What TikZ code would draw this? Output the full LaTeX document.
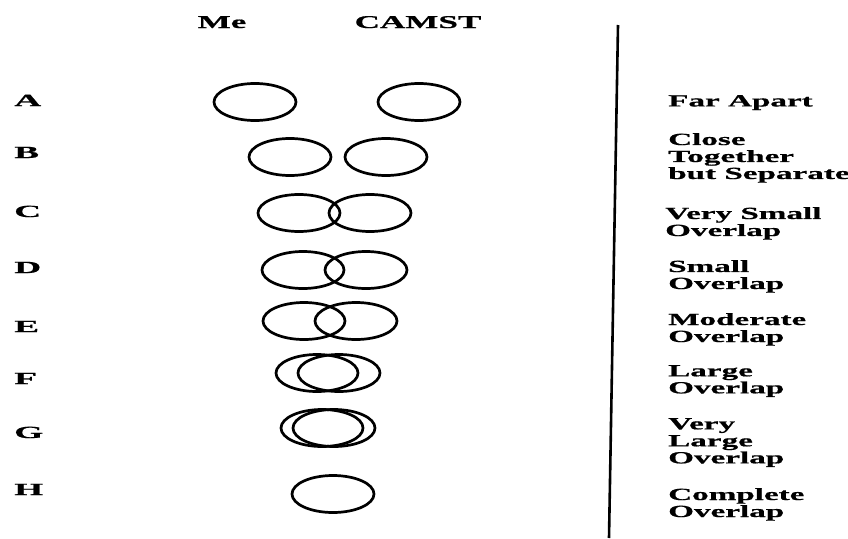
\documentclass[tikz,border=0pt]{standalone}
\usepackage{fontspec}
\newfontfamily\widefont{Liberation Serif}[FakeStretch=1.95,BoldFeatures={FakeBold=0.8}]
\newfontfamily\widerfont{Liberation Serif}[FakeStretch=2.2,BoldFeatures={FakeBold=0.8}]
\usetikzlibrary{shapes.geometric}

\begin{document}
\begin{tikzpicture}[x=1pt,y=1pt,
  ring/.style={draw,ellipse,line width=2.7pt,minimum width=82pt,minimum height=37pt,inner sep=0pt},
  head/.style={font=\widefont\bfseries\fontsize{18}{18}\selectfont,anchor=base,inner sep=0pt},
  tag/.style={font=\widerfont\bfseries\fontsize{17}{17}\selectfont,anchor=base west,inner sep=0pt},
  desc/.style={font=\widefont\bfseries\fontsize{17}{17}\selectfont,anchor=north west,align=left,inner sep=0pt}]
\useasboundingbox (0,0) rectangle (848,-538);
% column heads
\node[head] (me) at (222,-28) {Me};
\node[head] (camst) at (418,-28) {CAMST};
% row letters
\node[tag] (tA) at (14,-106) {A};
\node[tag] (tB) at (14,-158) {B};
\node[tag] (tC) at (14,-217) {C};
\node[tag] (tD) at (14,-273) {D};
\node[tag] (tE) at (14,-332) {E};
\node[tag] (tF) at (14,-384) {F};
\node[tag] (tG) at (14,-438) {G};
\node[tag] (tH) at (14,-495) {H};
% pairs of rings, Me left and CAMST right
\node[ring] (meA) at (255,-102) {}; \node[ring] (camA) at (419,-102) {};
\node[ring] (meB) at (290,-157) {}; \node[ring] (camB) at (386,-157) {};
\node[ring] (meC) at (299,-213) {}; \node[ring] (camC) at (370,-213) {};
\node[ring] (meD) at (303,-270) {}; \node[ring] (camD) at (366,-270) {};
\node[ring] (meE) at (304,-321) {}; \node[ring] (camE) at (356,-321) {};
\node[ring] (meF) at (317,-373) {}; \node[ring] (camF) at (339,-373) {};
\node[ring] (meG) at (322,-428) {}; \node[ring] (camG) at (334,-428) {};
\node[ring] (meH) at (333,-494) {};
% divider
\coordinate (divtop) at (618,-25); \coordinate (divbot) at (609,-538);
\draw[line width=2.6pt] (divtop) -- (divbot);
% descriptions
\node[desc] (dA) at (668,-95) {Far Apart};
\node[desc] (dB) at (668,-133) {Close\\Together\\but Separate};
\node[desc] (dC) at (665,-207) {Very Small\\Overlap};
\node[desc] (dD) at (668,-260) {Small\\Overlap};
\node[desc] (dE) at (668,-313) {Moderate\\Overlap};
\node[desc] (dF) at (668,-365) {Large\\Overlap};
\node[desc] (dG) at (668,-418) {Very\\Large\\Overlap};
\node[desc] (dH) at (668,-488) {Complete\\Overlap};
\end{tikzpicture}
\end{document}
